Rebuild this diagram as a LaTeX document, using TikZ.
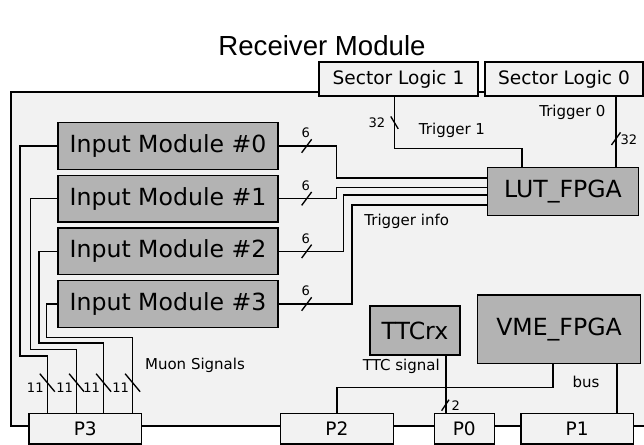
\documentclass[tikz,border=0pt]{standalone}
\usepackage{fontspec}
\setmainfont{DejaVu Sans}
\newfontfamily\titlefont{Liberation Sans}
\usetikzlibrary{calc}
\definecolor{boardgray}{HTML}{F2F2F2}
\definecolor{chipgray}{HTML}{B3B3B3}

\begin{document}
\begin{tikzpicture}[x=0.75pt, y=-0.75pt, node distance=39.5pt]
\tikzstyle{chip} = [ rectangle, draw, line width=1pt, fill=chipgray, inner sep=0pt, font=\fontsize{17.7}{20}\selectfont ]
\tikzstyle{module} = [ chip, minimum width=165pt, minimum height=35pt ]
\tikzstyle{conn} = [ rectangle, draw, line width=1pt, fill=boardgray, inner sep=0pt, minimum height=23pt, font=\fontsize{13.9}{16}\selectfont ]
\tikzstyle{line} = [ draw, line width=1pt ]
\tikzstyle{tag} = [ inner sep=0pt, font=\fontsize{11.25}{13}\selectfont ]
\tikzstyle{num} = [ inner sep=0pt, font=\fontsize{9.8}{11}\selectfont ]

\useasboundingbox (0,0) rectangle (644,445);
% board
\draw [line width=1pt, fill=boardgray] (11,92) rectangle (660,426);

% place nodes
\node [font=\titlefont\fontsize{20.7}{24}\selectfont] (title) at (322,46) {Receiver Module};
\node [module] (im0) at (168,146) {Input Module \#0};
\node [module, below of=im0] (im1) {Input Module \#1};
\node [module, below of=im1] (im2) {Input Module \#2};
\node [module, below of=im2] (im3) {Input Module \#3};
\node [chip, minimum width=113.5pt, minimum height=36.3pt] (lut) at (563,191.5) {LUT\_FPGA};
\node [conn, minimum width=119.3pt, minimum height=25.5pt] (sl1) at (398.5,79) {Sector Logic 1};
\node [conn, minimum width=118.5pt, minimum height=25.5pt] (sl0) at (564,79) {Sector Logic 0};
\node [chip, minimum width=67.5pt, minimum height=36.8pt] (ttc) at (415,330.5) {TTCrx};
\node [chip, minimum width=122.5pt, minimum height=51.2pt] (vme) at (559,329.2) {VME\_FPGA};
\node [conn, minimum width=84.5pt] (p3) at (85.3,428.7) {P3};
\node [conn, minimum width=84.6pt] (p2) at (336.9,428.7) {P2};
\node [conn, minimum width=45pt] (p0) at (464.3,428.7) {P0};
\node [conn, minimum width=84.2pt] (p1) at (577.2,428.7) {P1};

% labels
\node [tag] at (452,130) {Trigger 1};
\node [tag] at (572.3,112.7) {Trigger 0};
\node [tag] at (406.7,221.7) {Trigger info};
\node [tag] at (195,365) {Muon Signals};
\node [tag] at (401.3,366.7) {TTC signal};
\node [tag] at (586,381.7) {bus};

% draw edges
\path [line] (im0.west) -| (20,356) -| ($(p3.north west)+(19,0)$) ;
\path [line] (im1.west) -| (30.5,349.5) -| ($(p3.north west)+(48.3,0)$) ;
\path [line] (im2.west) -| (39,343) -| ($(p3.north west)+(75.3,0)$) ;
\path [line] (im3.west) -| (46.7,337.3) -| ($(p3.north west)+(104.3,0)$) ;
\path [line] ($(p3.north west)+(19,-30)$) +(-7.5,-9) -- +(7.5,9) ;
\path [line] ($(p3.north west)+(48.3,-30)$) +(-7.5,-9) -- +(7.5,9) ;
\path [line] ($(p3.north west)+(75.3,-30)$) +(-7.5,-9) -- +(7.5,9) ;
\path [line] ($(p3.north west)+(104.3,-30)$) +(-7.5,-9) -- +(7.5,9) ;
\node [num] at ($(p3.north west)+(7,-25)$) {11};
\node [num] at ($(p3.north west)+(36.3,-25)$) {11};
\node [num] at ($(p3.north west)+(63.3,-25)$) {11};
\node [num] at ($(p3.north west)+(92.3,-25)$) {11};

\path [line] (im0.east) -| ($(lut.west)+(-150,-13.5)$) -- ($(lut.west)+(0,-13.5)$) ;
\path [line] (im1.east) -| ($(lut.west)+(-150,-4.2)$) -- ($(lut.west)+(0,-4.2)$) ;
\path [line] (im2.east) -| ($(lut.west)+(-143,3.5)$) -- ($(lut.west)+(0,3.5)$) ;
\path [line] (im3.east) -| ($(lut.west)+(-134.6,13.5)$) -- ($(lut.west)+(0,13.5)$) ;
\path [line] ($(im0.east)+(28,0)$) +(-5,6.7) -- +(5,-6.7) ;
\path [line] ($(im1.east)+(28,0)$) +(-5,6.7) -- +(5,-6.7) ;
\path [line] ($(im2.east)+(28,0)$) +(-5,6.7) -- +(5,-6.7) ;
\path [line] ($(im3.east)+(28,0)$) +(-5,6.7) -- +(5,-6.7) ;
\node [num] at ($(im0.east)+(27,-13)$) {6};
\node [num] at ($(im1.east)+(27,-13)$) {6};
\node [num] at ($(im2.east)+(27,-13)$) {6};
\node [num] at ($(im3.east)+(27,-13)$) {6};

\path [line] ($(sl1.south)+(-4,0)$) |- ($(lut.north)+(-41,-18.3)$) -- ($(lut.north)+(-41,0)$) ;
\path [line] ($(sl1.south)+(-4,26)$) +(-3.7,-6.2) -- +(3.7,6.2) ;
\node [num] at ($(sl1.south)+(-21.5,26)$) {32};

\coordinate (trig0) at ($(sl0.south)+(52,0)$) ;
\path [line] (trig0) -- (trig0 |- lut.north) ;
\path [line] ($(sl0.south)+(52,42)$) +(-4.5,6.3) -- +(4.5,-6.3) ;
\node [num] at ($(sl0.south)+(65,43)$) {32};

\coordinate (ttcout) at ($(ttc.south)+(31,0)$) ;
\path [line] (ttcout) -- (ttcout |- p0.north) ;
\path [line] ($(ttc.south)+(30.3,49.5)$) +(-3.7,5.5) -- +(3.7,-5.5) ;
\node [num] at ($(ttc.south)+(40.7,50)$) {2};

\path [line] ($(vme.south)+(-6,0)$) -- ++(0,23.4) -| (p2.north) ;
\coordinate (vmeout) at ($(vme.south)+(58,0)$) ;
\path [line] (vmeout) -- (vmeout |- p1.north) ;

\end{tikzpicture}
\end{document}
